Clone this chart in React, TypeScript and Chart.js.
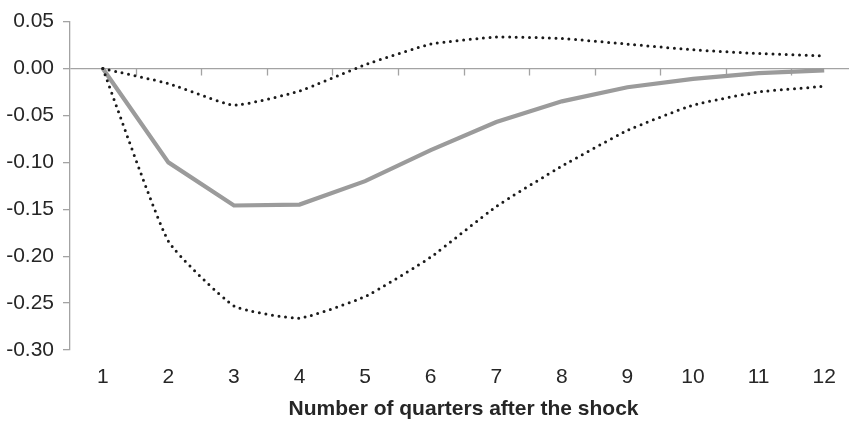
import React, { useEffect, useRef } from "react";
import { Chart, registerables } from "chart.js";

Chart.register(...registerables);

const quarters = ["1", "2", "3", "4", "5", "6", "7", "8", "9", "10", "11", "12"];
const response = [0, -0.1, -0.146, -0.145, -0.12, -0.087, -0.057, -0.035, -0.02, -0.011, -0.005, -0.002];
const upperBand = [0, -0.016, -0.039, -0.024, 0.004, 0.026, 0.0335, 0.032, 0.026, 0.02, 0.016, 0.0135];
const lowerBand = [0, -0.184, -0.253, -0.266, -0.243, -0.201, -0.147, -0.104, -0.066, -0.039, -0.025, -0.019];
const yMin = -0.3;
const yMax = 0.05;
const yStep = 0.05;
const xTitle = "Number of quarters after the shock";

const AXIS_GRAY = "#a3a3a3";
const TEXT = "#262626";
const FONT = "'Liberation Sans', Arial, Helvetica, sans-serif";

const zeroTicks = {
  id: "zeroTicks",
  beforeDatasetsDraw(chart: any) {
    const x = chart.scales.x;
    const y = chart.scales.y;
    const y0 = y.getPixelForValue(0);
    const n = chart.data.labels.length;
    const w = (x.right - x.left) / n;
    const ctx = chart.ctx;
    ctx.save();
    ctx.strokeStyle = AXIS_GRAY;
    ctx.lineWidth = 1.3;
    for (let k = 1; k <= n; k++) {
      const px = Math.round(x.left + k * w) + 0.5;
      ctx.beginPath();
      ctx.moveTo(px, y0);
      ctx.lineTo(px, y0 + 7);
      ctx.stroke();
    }
    ctx.restore();
  },
};

export default function App() {
  const ref = useRef<HTMLCanvasElement | null>(null);
  useEffect(() => {
    if (!ref.current) return;
    const chart = new Chart(ref.current, {
      type: "line",
      data: {
        labels: quarters,
        datasets: [
          {
            label: "upper",
            data: upperBand,
            borderColor: "#1a1a1a",
            borderWidth: 3,
            borderDash: [0, 6.6],
            borderCapStyle: "round",
            pointRadius: 0,
            tension: 0.15,
          },
          {
            label: "lower",
            data: lowerBand,
            borderColor: "#1a1a1a",
            borderWidth: 3,
            borderDash: [0, 6.6],
            borderCapStyle: "round",
            pointRadius: 0,
            tension: 0.15,
          },
          {
            label: "response",
            data: response,
            borderColor: "#9b9b9b",
            borderWidth: 4.2,
            pointRadius: 0,
            tension: 0,
          },
        ],
      },
      options: {
        animation: false,
        responsive: false,
        devicePixelRatio: 1,
        layout: { padding: { top: 19, left: 0, right: 1, bottom: 0 } },
        plugins: { legend: { display: false }, tooltip: { enabled: false } },
        scales: {
          x: {
            type: "category",
            offset: true,
            afterFit(scale: any) {
              scale.height = 72;
            },
            grid: { display: false, drawTicks: false },
            border: { display: false },
            ticks: {
              color: TEXT,
              font: { family: FONT, size: 21 },
              padding: 15,
              maxRotation: 0,
              autoSkip: false,
            },
            title: {
              display: true,
              text: xTitle,
              color: TEXT,
              font: { family: FONT, size: 21, weight: "bold" },
              padding: { top: 7, bottom: 0 },
            },
          },
          y: {
            min: yMin,
            max: yMax,
            afterFit(scale: any) {
              scale.width = 70;
            },
            ticks: {
              stepSize: yStep,
              color: TEXT,
              font: { family: FONT, size: 21 },
              padding: 9,
              callback: (v: any) => Number(v).toFixed(2),
            },
            grid: {
              drawTicks: true,
              tickLength: 7,
              tickColor: AXIS_GRAY,
              lineWidth: 1.3,
              color: (ctx: any) =>
                ctx.tick && Math.abs(ctx.tick.value) < 1e-9 ? AXIS_GRAY : "rgba(0,0,0,0)",
            },
            border: { display: true, color: AXIS_GRAY, width: 1.3 },
          },
        },
      },
      plugins: [zeroTicks],
    });
    return () => chart.destroy();
  }, []);
  return (
    <div
      style={{
        position: "fixed",
        left: 0,
        top: 0,
        width: 849,
        height: 422,
        overflow: "hidden",
        background: "#fff",
      }}
    >
      <canvas ref={ref} width={858} height={422} style={{ display: "block" }} />
    </div>
  );
}
